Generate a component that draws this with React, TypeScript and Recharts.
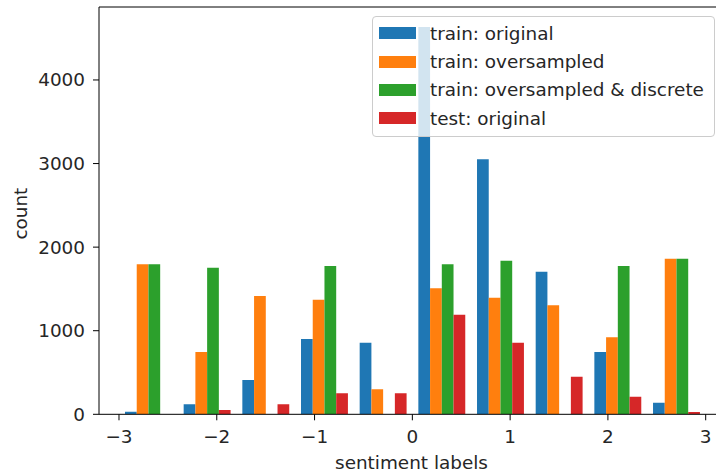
import React from "react";
import { BarChart, Bar, XAxis, YAxis, Legend, ReferenceLine, Label } from "recharts";

// bin centres of the histogram (10 bins between -3 and 3)
const binCenters = [-2.7, -2.1, -1.5, -0.9, -0.3, 0.3, 0.9, 1.5, 2.1, 2.7];

const trainOriginal = [31, 120, 410, 900, 857, 4634, 3051, 1706, 745, 139];
const trainOversampled = [1795, 745, 1415, 1371, 299, 1508, 1395, 1304, 921, 1862];
const trainDiscrete = [1795, 1754, 0, 1774, 0, 1795, 1838, 0, 1774, 1862];
const testOriginal = [0, 51, 120, 251, 251, 1192, 857, 450, 211, 28];

const xTicks = [-3, -2, -1, 0, 1, 2, 3];
const yTicks = [0, 1000, 2000, 3000, 4000];

const series = [
  { key: "trainOriginal", name: "train: original", color: "#1f77b4" },
  { key: "trainOversampled", name: "train: oversampled", color: "#ff7f0e" },
  { key: "trainDiscrete", name: "train: oversampled & discrete", color: "#2ca02c" },
  { key: "testOriginal", name: "test: original", color: "#d62728" },
];

const data = binCenters.map((center, i) => ({
  center,
  trainOriginal: trainOriginal[i],
  trainOversampled: trainOversampled[i],
  trainDiscrete: trainDiscrete[i],
  testOriginal: testOriginal[i],
}));

const FONT = "'DejaVu Sans', sans-serif";
const FS = 18.4;
const TEXT = "#262626";
const X_DOMAIN: [number, number] = [-3.2045, 3.1054];
const Y_MAX = 4873;

const LegendBox = () => (
  <div
    style={{
      width: 343,
      boxSizing: "border-box",
      border: "1px solid #cccccc",
      borderRadius: 4,
      background: "rgba(255,255,255,0.8)",
      padding: "2px 0 3px 6px",
      fontFamily: FONT,
      fontSize: FS,
      color: TEXT,
      whiteSpace: "nowrap",
    }}
  >
    {series.map((s) => (
      <div key={s.key} style={{ display: "flex", alignItems: "center", height: 28.4 }}>
        <span style={{ width: 37, height: 12, background: s.color, marginRight: 14, display: "inline-block", flexShrink: 0 }} />
        <span>{s.name}</span>
      </div>
    ))}
  </div>
);

export default function App() {
  return (
    <div style={{ position: "absolute", left: 0, top: 0, background: "#fff", fontFamily: FONT }}>
      <BarChart
        width={716}
        height={472}
        data={data}
        margin={{ top: 7, right: 0, bottom: 27.7, left: 0 }}
        barGap={0}
        barSize={11.73}
      >
        <XAxis
          dataKey="center"
          type="number"
          domain={X_DOMAIN}
          ticks={xTicks}
          allowDataOverflow
          height={30}
          tickSize={6}
          tickMargin={10}
          axisLine={{ stroke: "#000" }}
          tickLine={{ stroke: "#000" }}
          tick={{ fill: TEXT, fontSize: FS, fontFamily: FONT }}
          tickFormatter={(v: number) => (v < 0 ? "\u2212" + Math.abs(v) : String(v))}
        >
          <Label
            content={({ viewBox }: any) => (
              <text
                x={viewBox.x + viewBox.width / 2 + 4}
                y={viewBox.y + 55}
                textAnchor="middle"
                fill={TEXT}
                fontSize={FS}
                fontFamily={FONT}
              >
                sentiment labels
              </text>
            )}
          />
        </XAxis>
        <YAxis
          type="number"
          domain={[0, Y_MAX]}
          ticks={yTicks}
          allowDataOverflow
          width={99}
          tickSize={6}
          tickMargin={8}
          axisLine={{ stroke: "#000" }}
          tickLine={{ stroke: "#000" }}
          tick={{ fill: TEXT, fontSize: FS, fontFamily: FONT }}
        >
          <Label
            content={({ viewBox }: any) => {
              const cx = 27;
              const cy = viewBox.y + viewBox.height / 2 + 3;
              return (
                <text
                  x={cx}
                  y={cy}
                  transform={`rotate(-90, ${cx}, ${cy})`}
                  textAnchor="middle"
                  fill={TEXT}
                  fontSize={FS}
                  fontFamily={FONT}
                >
                  count
                </text>
              );
            }}
          />
        </YAxis>
        <ReferenceLine y={Y_MAX} stroke="#000" ifOverflow="visible" />
        {series.map((s) => (
          <Bar key={s.key} dataKey={s.key} name={s.name} fill={s.color} isAnimationActive={false} />
        ))}
        <Legend
          layout="vertical"
          align="center"
          verticalAlign="middle"
          wrapperStyle={{ top: 16, left: 372, width: 343 }}
          content={() => <LegendBox />}
        />
      </BarChart>
    </div>
  );
}
